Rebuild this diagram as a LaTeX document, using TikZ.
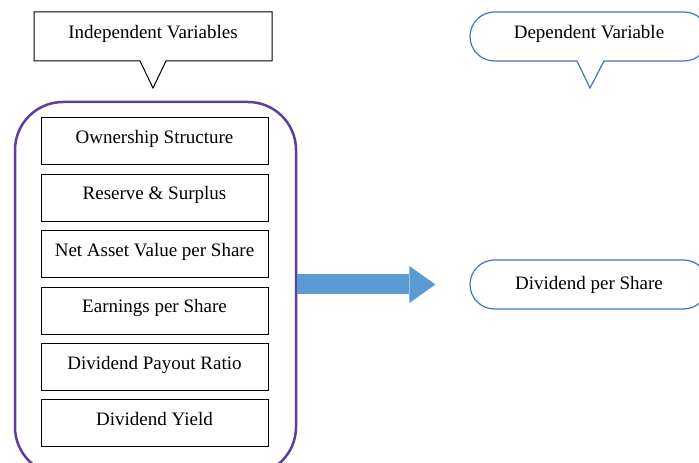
\documentclass[tikz,border=0pt]{standalone}
\usepackage{fontspec}
\setmainfont{Liberation Serif}
\usetikzlibrary{positioning,arrows.meta,calc}
\definecolor{uFrame}{HTML}{5E3DA0}
\definecolor{uPill}{HTML}{4472C4}
\definecolor{uArrow}{HTML}{5B9BD5}
\tikzset{
  txt/.style={font=\fontsize{19}{23}\selectfont, inner sep=0pt},
  % the six boxes inside the frame
  var/.style={draw, line width=1pt, minimum width=227pt, minimum height=47pt,
              txt, text height=13pt, text depth=9pt},
  pill/.style={draw=uPill, line width=1.2pt, rounded corners=24.5pt,
               minimum width=238pt, minimum height=49pt, txt},
  bubble/.style={line width=1pt, line join=miter},
  bigarrow/.style={uArrow, line width=20pt,
                   -{Triangle[length=26pt, width=37pt, line width=0pt]}},
}

\begin{document}
\begin{tikzpicture}[x=1pt, y=1pt]
\useasboundingbox (0,0) rectangle (699,463);

%% ── the two headings ─────────────────────────────────────────────────────
\node[txt, text height=13pt, text depth=9pt] (indep) at (153,426.5)
  {Independent Variables};
\draw[bubble] (34,451) -- (272,451) -- (272,402) -- (166,402)
  -- (153,375) -- (140,402) -- (34,402) -- cycle;

\node[txt, text height=13pt, text depth=9pt] (dep) at (589,426.5)
  {Dependent Variable};
\draw[bubble, draw=uPill, line width=1.2pt] (577,402) -- (590,375) -- (604,402)
  -- (684,402) arc[start angle=-90, end angle=90, radius=24.5]
  -- (494.5,451) arc[start angle=90, end angle=270, radius=24.5] -- cycle;

%% ── the frame and its variables ──────────────────────────────────────────
\node[draw=uFrame, line width=2.5pt, rounded corners=48pt,
      minimum width=281pt, minimum height=373pt] (vars) at (155.5,174.5) {};

\node[var] (own) at (154.5,321.5) {Ownership Structure};
\node[var, below=8.4pt of own] (res) {Reserve \& Surplus};
\node[var, below=8.4pt of res] (nav) {Net Asset Value per Share};
\node[var, below=8.4pt of nav] (eps) {Earnings per Share};
\node[var, below=8.4pt of eps] (dpr) {Dividend Payout Ratio};
\node[var, below=8.4pt of dpr] (yld) {Dividend Yield};

%% ── the outcome ──────────────────────────────────────────────────────────
\node[pill] (dps) at (589,178.5) {Dividend per Share};

\draw[bigarrow] (vars.east |- dps.west) -- ([xshift=-34pt]dps.west);

\end{tikzpicture}
\end{document}
